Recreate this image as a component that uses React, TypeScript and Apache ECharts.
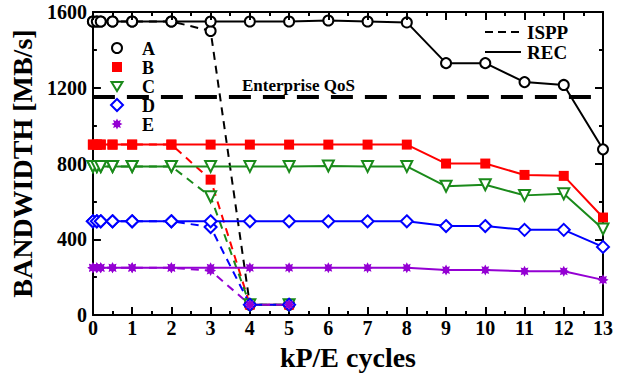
import React, { useEffect, useRef } from "react";
import * as echarts from "echarts";

const xRec = [0, 0.1, 0.2, 0.5, 1, 2, 3, 4, 5, 6, 7, 8, 9, 10, 11, 12, 13];
const recA = [1550, 1550, 1550, 1550, 1550, 1550, 1550, 1550, 1550, 1555, 1550, 1545, 1330, 1330, 1230, 1215, 875];
const recB = [900, 900, 900, 900, 900, 900, 900, 900, 900, 900, 900, 900, 800, 800, 740, 735, 515];
const recC = [785, 785, 785, 785, 785, 785, 785, 785, 785, 787, 785, 785, 680, 688, 632, 640, 455];
const recD = [495, 495, 495, 495, 495, 495, 495, 495, 495, 495, 495, 495, 470, 470, 450, 450, 360];
const recE = [250, 250, 250, 250, 250, 250, 250, 250, 250, 250, 250, 250, 238, 238, 231, 231, 186];

const xIspp = [0, 0.1, 0.2, 0.5, 1, 2, 3, 4, 5];
const isppA = [1550, 1550, 1550, 1550, 1550, 1550, 1500, 55, 55];
const isppB = [900, 900, 900, 900, 900, 900, 715, 55, 55];
const isppC = [785, 785, 785, 785, 785, 785, 625, 55, 55];
const isppD = [495, 495, 495, 495, 495, 495, 465, 55, 55];
const isppE = [250, 250, 250, 250, 250, 250, 235, 55, 55];

const qosLevel = 1150;
const seriesNames = ["A", "B", "C", "D", "E"];
const colors = ["#000000", "#ff0000", "#1a8a1a", "#0000ff", "#9400d3"];

const FONT = "'Liberation Serif', 'DejaVu Serif', serif";

const STAR = "path://M10 0 L5.5 2.3 L7.07 7.07 L2.3 5.5 L0 10 L-2.3 5.5 L-7.07 7.07 L-5.5 2.3 L-10 0 L-5.5 -2.3 L-7.07 -7.07 L-2.3 -5.5 L0 -10 L2.3 -5.5 L7.07 -7.07 L5.5 -2.3 Z";

function starPoints(cx: number, cy: number, ro: number, ri: number) {
  const pts: number[][] = [];
  for (let i = 0; i < 16; i++) {
    const a = (i * Math.PI) / 8;
    const r = i % 2 === 0 ? ro : ri;
    pts.push([cx + r * Math.cos(a), cy + r * Math.sin(a)]);
  }
  return pts;
}

const symbolDefs = [
  { symbol: "circle", size: 10, rotate: 0, hollow: true },
  { symbol: "rect", size: 10, rotate: 0, hollow: false },
  { symbol: "triangle", size: 11, rotate: 180, hollow: true },
  { symbol: "diamond", size: 12, rotate: 0, hollow: true },
  { symbol: STAR, size: 11, rotate: 0, hollow: false },
];

export default function App() {
  const ref = useRef<HTMLDivElement>(null);
  useEffect(() => {
    if (!ref.current) return;
    const chart = echarts.init(ref.current, null, { renderer: "svg" });
    const recs = [recA, recB, recC, recD, recE];
    const ispps = [isppA, isppB, isppC, isppD, isppE];
    const series: any[] = [];
    seriesNames.forEach((n, i) => {
      const sd = symbolDefs[i];
      const itemStyle = sd.hollow
        ? { color: "#ffffff", borderColor: colors[i], borderWidth: 2 }
        : { color: colors[i], borderColor: colors[i], borderWidth: 0 };
      series.push({
        name: n + " ISPP",
        type: "line",
        data: xIspp.map((x, k) => [x, ispps[i][k]]),
        symbol: sd.symbol,
        symbolSize: sd.size,
        symbolRotate: sd.rotate,
        showAllSymbol: true,
        lineStyle: { color: colors[i], width: 2, type: [8, 6] },
        itemStyle,
        z: 2,
      });
    });
    seriesNames.forEach((n, i) => {
      const sd = symbolDefs[i];
      const itemStyle = sd.hollow
        ? { color: "#ffffff", borderColor: colors[i], borderWidth: 2 }
        : { color: colors[i], borderColor: colors[i], borderWidth: 0 };
      series.push({
        name: n + " REC",
        type: "line",
        data: xRec.map((x, k) => [x, recs[i][k]]),
        symbol: sd.symbol,
        symbolSize: sd.size,
        symbolRotate: sd.rotate,
        showAllSymbol: true,
        lineStyle: { color: colors[i], width: 2, type: "solid" },
        itemStyle,
        z: 3,
        markLine:
          i === 0
            ? {
                silent: true,
                symbol: "none",
                label: { show: false },
                lineStyle: { color: "#000", width: 4, type: [22, 12] },
                data: [{ yAxis: qosLevel }],
              }
            : undefined,
      });
    });

    const legendGraphics: any[] = [];
    const ly = [48, 67, 86, 105, 124];
    const lx = 117;
    ly.forEach((y, i) => {
      const c = colors[i];
      if (i === 0)
        legendGraphics.push({ type: "circle", shape: { cx: lx, cy: y, r: 5 }, style: { fill: "#fff", stroke: c, lineWidth: 2 } });
      if (i === 1)
        legendGraphics.push({ type: "rect", shape: { x: lx - 5, y: y - 5, width: 10, height: 10 }, style: { fill: c } });
      if (i === 2)
        legendGraphics.push({ type: "polygon", shape: { points: [[lx - 5.5, y - 4], [lx + 5.5, y - 4], [lx, y + 5]] }, style: { fill: "#fff", stroke: c, lineWidth: 2 } });
      if (i === 3)
        legendGraphics.push({ type: "polygon", shape: { points: [[lx, y - 6], [lx + 6, y], [lx, y + 6], [lx - 6, y]] }, style: { fill: "#fff", stroke: c, lineWidth: 2 } });
      if (i === 4)
        legendGraphics.push({ type: "polygon", shape: { points: starPoints(lx, y, 5.5, 3.2) }, style: { fill: c } });
      legendGraphics.push({
        type: "text",
        x: 142,
        y: y + 1,
        style: { text: seriesNames[i], font: `bold 18px ${FONT}`, lineHeight: 18, fill: "#000", verticalAlign: "middle" },
      });
    });
    legendGraphics.push(
      { type: "line", shape: { x1: 485, y1: 32, x2: 521, y2: 32 }, style: { stroke: "#000", lineWidth: 2, lineDash: [8, 5] } },
      { type: "line", shape: { x1: 485, y1: 52, x2: 521, y2: 52 }, style: { stroke: "#000", lineWidth: 2 } },
      { type: "text", x: 527, y: 32, style: { text: "ISPP", font: `bold 19px ${FONT}`, lineHeight: 19, fill: "#000", verticalAlign: "middle" } },
      { type: "text", x: 527, y: 52, style: { text: "REC", font: `bold 19px ${FONT}`, lineHeight: 19, fill: "#000", verticalAlign: "middle" } },
      { type: "text", x: 242, y: 85, style: { text: "Enterprise QoS", font: `bold 17px ${FONT}`, fill: "#000", verticalAlign: "middle" } }
    );

    const axisCommon = {
      axisLine: { show: true, onZero: false, lineStyle: { color: "#000", width: 2 } },
      axisTick: { show: true, inside: true, length: 8, lineStyle: { color: "#000", width: 2 } },
      minorTick: { show: true, splitNumber: 2, length: 4, lineStyle: { color: "#000", width: 2 } },
      splitLine: { show: false },
    };

    chart.setOption({
      animation: false,
      backgroundColor: "#ffffff",
      grid: { left: 89, right: 31, top: 12, bottom: 58, containLabel: false },
      xAxis: [
        {
          type: "value",
          position: "bottom",
          min: 0,
          max: 13,
          interval: 1,
          ...axisCommon,
          axisLabel: { color: "#000", fontFamily: FONT, fontWeight: "bold", fontSize: 20, margin: 3 },
          name: "kP/E cycles",
          nameLocation: "middle",
          nameGap: 21,
          nameTextStyle: { color: "#000", fontFamily: FONT, fontWeight: "bold", fontSize: 28 },
        },
        {
          type: "value",
          position: "top",
          min: 0,
          max: 13,
          interval: 1,
          ...axisCommon,
          axisLabel: { show: false },
          z: 5,
        },
      ],
      yAxis: [
        {
          type: "value",
          position: "left",
          min: 0,
          max: 1600,
          interval: 400,
          ...axisCommon,
          axisLabel: {
            color: "#000",
            fontFamily: FONT,
            fontWeight: "bold",
            fontSize: 20,
            margin: 6,
            formatter: (v: number) => String(v),
          },
          name: "BANDWIDTH [MB/s]",
          nameLocation: "middle",
          nameGap: 50,
          nameTextStyle: { color: "#000", fontFamily: FONT, fontWeight: "bold", fontSize: 28 },
        },
        {
          type: "value",
          position: "right",
          min: 0,
          max: 1600,
          interval: 400,
          ...axisCommon,
          axisLabel: { show: false },
        },
      ],
      series,
      graphic: legendGraphics,
    });
    return () => chart.dispose();
  }, []);
  return <div ref={ref} style={{ position: "fixed", left: 0, top: 0, width: 634, height: 376 }} />;
}
